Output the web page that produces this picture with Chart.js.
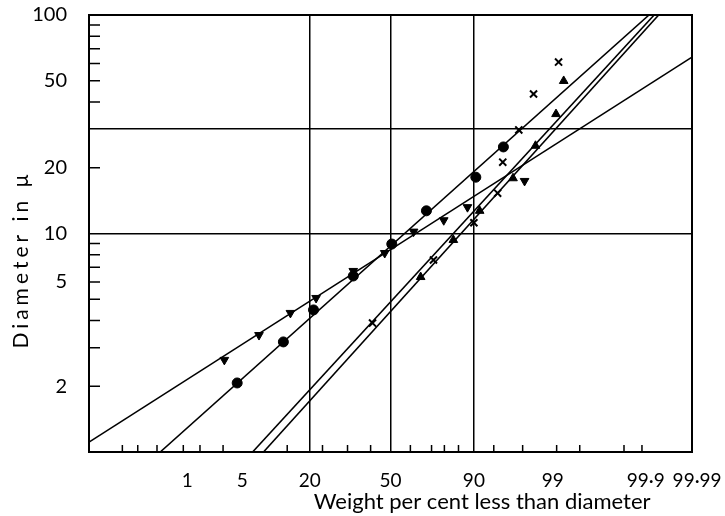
<!DOCTYPE html>
<html>
<head>
<meta charset="utf-8">
<script src="https://cdn.jsdelivr.net/npm/chart.js@4"></script>
<style>
  html, body { margin: 0; padding: 0; background: #fff; }
  #wrap { width: 725px; height: 516px; }
</style>
</head>
<body>
<div id="wrap"><canvas id="chart" width="725" height="516"></canvas></div>
<script>
// x values are in probability-scale units (normal deviates), y values are diameters in micron
const circleX = [-2.39, -1.67, -1.20, -0.58, 0.02, 0.56, 1.33, 1.76];
const circleY = [2.07, 3.19, 4.47, 6.39, 8.95, 12.7, 18.1, 24.9];

const downTriX = [-2.59, -2.05, -1.56, -1.16, -0.58, -0.09, 0.36, 0.83, 1.20, 2.09];
const downTriY = [2.64, 3.43, 4.33, 5.07, 6.74, 8.14, 10.2, 11.5, 13.2, 17.4];

const upTriX = [0.47, 0.98, 1.39, 1.91, 2.26, 2.58, 2.70];
const upTriY = [6.32, 9.34, 12.7, 17.9, 25.2, 35.2, 49.9];

const crossX = [-0.28, 0.67, 1.30, 1.67, 1.75, 2.00, 2.23, 2.62];
const crossY = [3.89, 7.56, 11.2, 15.3, 21.2, 29.8, 43.5, 60.9];

// fitted straight lines, two end points each
const downTriLineX = [-4.70, 4.70];
const downTriLineY = [1.11, 64.2];
const circleLineX = [-3.59, 4.03];
const circleLineY = [1, 100];
const crossLineX = [-2.15, 4.11];
const crossLineY = [1, 100];
const upTriLineX = [-1.98, 4.18];
const upTriLineY = [1, 100];

// axes
const xLabelPos = [-3.17, -2.31, -1.26, 0, 1.30, 2.53, 3.98, 4.78];
const xLabelText = ['1', '5', '20', '50', '90', '99', '99·9', '99·99'];
const xMarks = [-4.18, -3.94, -3.64, -3.23, -2.97, -2.61, -1.61, -1.06, -0.67, -0.31,
  0.31, 0.64, 0.84, 1.06, 1.61, 2.06, 2.59, 2.95, 3.64, 3.92];
const xGuides = [-1.26, 0, 1.30];

const yTicks = [1, 2, 3, 4, 5, 6, 7, 8, 9, 10, 20, 30, 40, 50, 60, 70, 80, 90, 100];
const yLabelPos = [2, 6, 10, 20, 50, 100];
const yLabelText = ['2', '5', '10', '20', '50', '100'];
const yMarks = [2, 3, 4, 5, 6, 7, 8, 9, 20, 40, 50, 60, 70, 80, 90];
const yGuides = [10, 30];

const xTitle = 'Weight per cent less than diameter';
const yTitle = 'Diameter in μ';

const pts = (xs, ys) => xs.map((x, i) => ({ x: x, y: ys[i] }));

const ink = '#000';

function pointSet(xs, ys, style, extra) {
  return Object.assign({
    data: pts(xs, ys),
    showLine: false,
    pointStyle: style,
    pointRadius: 5,
    backgroundColor: ink,
    borderColor: ink,
    borderWidth: 1
  }, extra || {});
}

function lineSet(xs, ys) {
  return {
    data: pts(xs, ys),
    showLine: true,
    pointRadius: 0,
    borderColor: ink,
    borderWidth: 1.6,
    fill: false
  };
}

const frame = {
  id: 'frame',
  afterDraw(chart) {
    const { ctx, chartArea: a, scales } = chart;
    ctx.save();
    ctx.strokeStyle = ink;
    ctx.lineWidth = 1.5;
    ctx.beginPath();
    xMarks.forEach(v => {
      const px = scales.x.getPixelForValue(v);
      ctx.moveTo(px, a.bottom);
      ctx.lineTo(px, a.bottom - 7);
    });
    yMarks.forEach(v => {
      const py = scales.y.getPixelForValue(v);
      ctx.moveTo(a.left, py);
      ctx.lineTo(a.left + 11, py);
    });
    ctx.stroke();
    ctx.lineWidth = 2;
    ctx.strokeRect(a.left, a.top, a.right - a.left, a.bottom - a.top);

    ctx.fillStyle = ink;
    ctx.textAlign = 'center';
    ctx.textBaseline = 'middle';
    ctx.font = '22px Lato';
    ctx.fillText(xTitle, a.left + (a.right - a.left) * 0.652, a.bottom + 50);
    ctx.font = '21px Lato';
    ctx.letterSpacing = '4px';
    ctx.translate(a.left - 68, a.top + (a.bottom - a.top) * 0.56);
    ctx.rotate(-Math.PI / 2);
    ctx.fillText(yTitle, 0, 0);
    ctx.restore();
  }
};

new Chart(document.getElementById('chart'), {
  type: 'scatter',
  data: {
    datasets: [
      pointSet(circleX, circleY, 'circle'),
      pointSet(downTriX, downTriY, 'triangle', { rotation: 180 }),
      pointSet(upTriX, upTriY, 'triangle'),
      pointSet(crossX, crossY, 'crossRot', { pointRadius: 5, borderWidth: 2 }),
      lineSet(downTriLineX, downTriLineY),
      lineSet(circleLineX, circleLineY),
      lineSet(crossLineX, crossLineY),
      lineSet(upTriLineX, upTriLineY)
    ]
  },
  options: {
    responsive: false,
    animation: false,
    layout: { padding: { top: 15, right: 33, left: 0, bottom: 0 } },
    plugins: { legend: { display: false }, tooltip: { enabled: false } },
    scales: {
      x: {
        type: 'linear',
        min: -4.7,
        max: 4.7,
        afterBuildTicks(scale) {
          scale.ticks = xLabelPos.concat(xGuides.filter(v => !xLabelPos.includes(v))).map(v => ({ value: v }));
        },
        afterFit(scale) {
          scale.height = 64;
          scale.paddingLeft = 0;
          scale.paddingRight = 0;
        },
        border: { display: false },
        grid: {
          drawTicks: false,
          lineWidth: 1.5,
          color: c => (c.tick && xGuides.includes(c.tick.value)) ? ink : 'rgba(0,0,0,0)'
        },
        ticks: {
          autoSkip: false,
          maxRotation: 0,
          minRotation: 0,
          padding: 17,
          color: ink,
          font: { family: 'Lato', size: 19 },
          callback: v => {
            const i = xLabelPos.indexOf(v);
            return i >= 0 ? xLabelText[i] : '';
          }
        }
      },
      y: {
        type: 'logarithmic',
        min: 1,
        max: 100,
        afterBuildTicks(scale) {
          scale.ticks = yTicks.map(v => ({ value: v }));
        },
        afterFit(scale) {
          scale.width = 89;
          scale.paddingTop = 0;
          scale.paddingBottom = 0;
        },
        border: { display: false },
        grid: {
          drawTicks: false,
          lineWidth: 1.5,
          color: c => (c.tick && yGuides.includes(c.tick.value)) ? ink : 'rgba(0,0,0,0)'
        },
        ticks: {
          autoSkip: false,
          padding: 22,
          color: ink,
          font: { family: 'Lato', size: 20 },
          callback: v => {
            const i = yLabelPos.indexOf(v);
            return i >= 0 ? yLabelText[i] : '';
          }
        }
      }
    }
  },
  plugins: [frame]
});
</script>
</body>
</html>
